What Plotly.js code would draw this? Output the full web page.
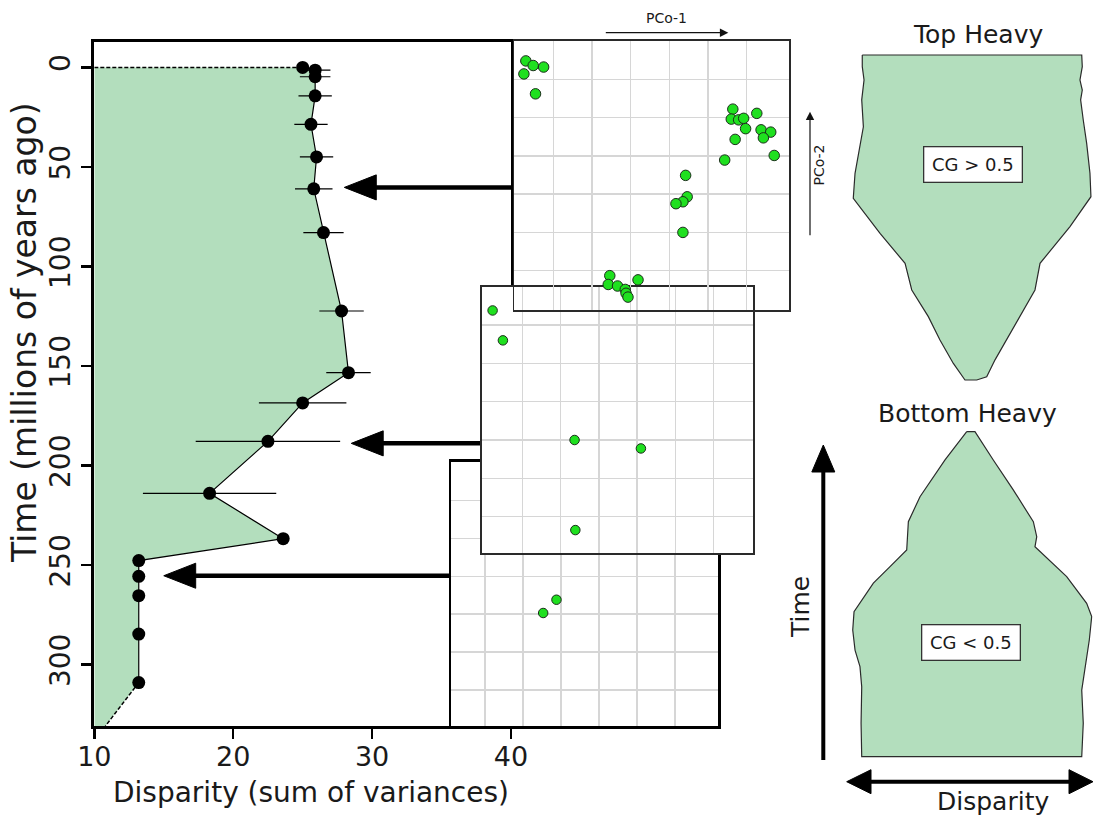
<!DOCTYPE html>
<html>
<head>
<meta charset="utf-8">
<script src="https://cdn.plot.ly/plotly-3.0.1.min.js"></script>
<style>
  html, body { margin: 0; padding: 0; background: #ffffff; }
  #chart { width: 1094px; height: 816px; }
</style>
</head>
<body>
<div id="chart"></div>
<script>
// ---- Disparity through time (main panel) ----
const timeMa       = [0, 1.4, 4.7, 14.3, 28.6, 45, 61, 83, 122.4, 153.4, 168.6, 187.9, 214, 236.8, 247.8, 255.7, 265.4, 284.7, 309.1];
const disparity    = [25.0, 25.9, 25.9, 25.9, 25.6, 26.0, 25.8, 26.5, 27.8, 28.3, 25.0, 22.5, 18.3, 23.6, 13.2, 13.2, 13.2, 13.2, 13.2];
const disparityErr = [0, 1.1, 1.1, 1.2, 1.2, 1.2, 1.35, 1.45, 1.6, 1.6, 3.15, 5.2, 4.8, 0, 0, 0, 0, 0, 0];

// dashed extensions of the curve to the plot edges
const topExtDisparity  = [10, 25.0];
const topExtTime       = [0, 0];
const baseExtDisparity = [13.2, 10.8];
const baseExtTime      = [309.1, 330.9];

const timeTicks      = [0, 50, 100, 150, 200, 250, 300];
const disparityTicks = [10, 20, 30, 40];

// time slices shown as morphospace insets, with pointer arrows
const sliceTimes = [60.3, 188.9, 255.4];
const arrowTips  = [28.0, 28.5, 15.0];
const arrowTails = [40, 38.2, 36.0];

// ---- Morphospace (PCo-1 / PCo-2) occupation for each slice ----
const slice60Pco1  = [0.29, 0.48, 0.75, 0.24, 0.54, 5.64, 5.60, 5.79, 5.92, 6.26, 5.97, 6.37, 6.62, 6.43, 5.70, 6.71, 5.43, 4.42, 4.46, 4.35, 4.17, 4.35, 2.46, 3.19, 2.42, 2.66, 2.86, 2.88, 2.93];
const slice60Pco2  = [6.48, 6.36, 6.32, 6.14, 5.62, 5.22, 4.96, 4.94, 4.98, 5.11, 4.71, 4.68, 4.62, 4.47, 4.43, 4.01, 3.89, 3.49, 2.93, 2.80, 2.75, 2.00, 0.87, 0.76, 0.64, 0.60, 0.51, 0.41, 0.31];
const slice190Pco1 = [0.21, 0.48, 2.36, 4.10, 2.38];
const slice190Pco2 = [6.38, 5.60, 3.00, 2.78, 0.65];
const slice255Pco1 = [2.88, 2.53];
const slice255Pco2 = [3.38, 3.03];
const gridTicks    = [1, 2, 3, 4, 5, 6];

// ---- Schematic disparity profiles (relative width vs relative time) ----
const topHeavyWidth = [-1.00, 1.00, 1.005, 0.984, 1.005, 0.99, 1.014, 1.045, 1.075, 1.084, 0.893, 0.726, 0.62, 0.574, 0.453, 0.346, 0.21, 0.134, 0.043, -0.064, -0.17, -0.292, -0.398, -0.549, -0.61, -0.838, -1.082, -1.066, -1.021, -0.99, -1.005, -0.984, -1.0, -1.00];
const topHeavyTime  = [1, 1, 0.964, 0.923, 0.892, 0.862, 0.8, 0.728, 0.636, 0.564, 0.472, 0.405, 0.359, 0.277, 0.205, 0.144, 0.062, 0.01, 0, 0, 0.051, 0.123, 0.195, 0.277, 0.359, 0.451, 0.559, 0.636, 0.718, 0.779, 0.862, 0.923, 0.964, 1];
const bottomHeavyWidth = [-0.048, 0.027, 0.194, 0.376, 0.559, 0.59, 0.574, 0.863, 1.045, 1.091, 1.069, 1.045, 1.014, 1.0, 1.014, 1.0, -1.005, -1.011, -1.005, -1.021, -1.066, -1.087, -1.075, -0.899, -0.747, -0.595, -0.58, -0.474, -0.246, -0.048];
const bottomHeavyTime  = [1, 1, 0.913, 0.821, 0.723, 0.677, 0.646, 0.554, 0.472, 0.431, 0.359, 0.308, 0.246, 0.205, 0.103, 0, 0, 0.103, 0.215, 0.277, 0.328, 0.39, 0.446, 0.534, 0.585, 0.636, 0.723, 0.8, 0.913, 1];

// ---- styling ----
const W = 1094, H = 816;
const px = v => v / W;          // pixel -> paper x
const py = v => 1 - v / H;      // pixel -> paper y
const GREEN_FILL = 'rgb(179,222,189)';
const DOT_GREEN = '#1fe01f';
const INK = '#1a1a1a';
const FONT = 'DejaVu Sans, Arial, sans-serif';

const traces = [
  // shaded area under the disparity curve
  {
    x: [topExtDisparity[0]].concat(disparity, [baseExtDisparity[1], 10]),
    y: [topExtTime[0]].concat(timeMa, [baseExtTime[1], baseExtTime[1]]),
    xaxis: 'x', yaxis: 'y', type: 'scatter', mode: 'lines',
    fill: 'toself', fillcolor: GREEN_FILL, line: {width: 0}, hoverinfo: 'skip'
  },
  {
    x: topExtDisparity, y: topExtTime, xaxis: 'x', yaxis: 'y', type: 'scatter', mode: 'lines',
    line: {color: '#000', width: 1.5, dash: '4px,2px'}
  },
  {
    x: baseExtDisparity, y: baseExtTime, xaxis: 'x', yaxis: 'y', type: 'scatter', mode: 'lines',
    line: {color: '#000', width: 1.5, dash: '4px,2px'}
  },
  {
    x: disparity, y: timeMa, xaxis: 'x', yaxis: 'y', type: 'scatter', mode: 'lines+markers',
    line: {color: '#000', width: 1.2},
    marker: {color: '#000', size: 13},
    error_x: {type: 'data', array: disparityErr, visible: true, color: '#000', thickness: 1.2, width: 0}
  },
  // morphospace insets (back to front)
  {
    x: slice255Pco1, y: slice255Pco2, xaxis: 'x2', yaxis: 'y2', type: 'scatter', mode: 'markers',
    marker: {color: DOT_GREEN, size: 9.5, line: {color: '#1b2e1b', width: 1}}
  },
  {
    x: slice190Pco1, y: slice190Pco2, xaxis: 'x3', yaxis: 'y3', type: 'scatter', mode: 'markers',
    marker: {color: DOT_GREEN, size: 9.5, line: {color: '#1b2e1b', width: 1}}
  },
  {
    x: slice60Pco1, y: slice60Pco2, xaxis: 'x4', yaxis: 'y4', type: 'scatter', mode: 'markers',
    marker: {color: DOT_GREEN, size: 10.5, line: {color: '#1b2e1b', width: 1}}
  },
  // schematic profiles
  {
    x: topHeavyWidth, y: topHeavyTime, xaxis: 'x5', yaxis: 'y5', type: 'scatter', mode: 'lines',
    fill: 'toself', fillcolor: GREEN_FILL, line: {color: '#2b2b2b', width: 1.2}
  },
  {
    x: bottomHeavyWidth, y: bottomHeavyTime, xaxis: 'x6', yaxis: 'y6', type: 'scatter', mode: 'lines',
    fill: 'toself', fillcolor: GREEN_FILL, line: {color: '#2b2b2b', width: 1.2}
  }
];

function insetAxis(domain, range, anchor, color, width) {
  return {
    domain: domain, range: range, anchor: anchor,
    tickvals: gridTicks, showticklabels: false, ticks: '',
    showgrid: true, gridcolor: '#d6d6d6', gridwidth: 1.3,
    zeroline: false, showline: true, mirror: true,
    linecolor: color, linewidth: width, fixedrange: true
  };
}

function hiddenAxis(domain, range, anchor) {
  return {domain: domain, range: range, anchor: anchor, visible: false, fixedrange: true};
}

// pointer arrows from each inset to its time slice
const HEAD_LEN = 2.3;   // disparity units
const HEAD_HALF = 6.3;  // Ma
const shapes = [];
sliceTimes.forEach((t, i) => {
  const tip = arrowTips[i];
  shapes.push({
    type: 'line', xref: 'x', yref: 'y', layer: 'below',
    x0: arrowTails[i], x1: tip + HEAD_LEN * 0.8, y0: t, y1: t,
    line: {color: '#000', width: 4.5}
  });
  shapes.push({
    type: 'path', xref: 'x', yref: 'y', layer: 'below',
    path: `M${tip},${t} L${tip + HEAD_LEN},${t - HEAD_HALF} L${tip + HEAD_LEN},${t + HEAD_HALF} Z`,
    fillcolor: '#000', line: {color: '#000', width: 1}
  });
});

// Time (vertical) and Disparity (double-headed) key arrows
const tx = 823.3;
shapes.push({type: 'line', xref: 'paper', yref: 'paper', x0: px(tx), x1: px(tx), y0: py(760), y1: py(468),
  line: {color: '#000', width: 4}});
shapes.push({type: 'path', xref: 'paper', yref: 'paper',
  path: `M${px(tx)},${py(445)} L${px(tx - 11.5)},${py(472)} L${px(tx + 11.5)},${py(472)} Z`,
  fillcolor: '#000', line: {color: '#000', width: 1}});
const dy = 781.7;
shapes.push({type: 'line', xref: 'paper', yref: 'paper', x0: px(868), x1: px(1072), y0: py(dy), y1: py(dy),
  line: {color: '#000', width: 4}});
shapes.push({type: 'path', xref: 'paper', yref: 'paper',
  path: `M${px(846.7)},${py(dy)} L${px(871)},${py(dy - 12)} L${px(871)},${py(dy + 12)} Z`,
  fillcolor: '#000', line: {color: '#000', width: 1}});
shapes.push({type: 'path', xref: 'paper', yref: 'paper',
  path: `M${px(1093)},${py(dy)} L${px(1069)},${py(dy - 12)} L${px(1069)},${py(dy + 12)} Z`,
  fillcolor: '#000', line: {color: '#000', width: 1}});

function label(text, x, y, size, extra) {
  return Object.assign({
    xref: 'paper', yref: 'paper', x: px(x), y: py(y), text: text, showarrow: false,
    xanchor: 'center', yanchor: 'middle', font: {family: FONT, size: size, color: INK}
  }, extra || {});
}

const annotations = [
  label('Disparity (sum of variances)', 311, 792, 28),
  label('Time (millions of years ago)', 24, 333, 33, {textangle: -90}),
  label('Top Heavy', 978, 35, 25),
  label('Bottom Heavy', 967, 413, 25),
  label('Time', 800, 607, 25, {textangle: -90}),
  label('Disparity', 993, 801, 25),
  label('PCo-1', 666, 18, 14),
  label('PCo-2', 818.5, 165, 14, {textangle: -90}),
  label('CG &gt; 0.5', 972.5, 165, 18, {bgcolor: '#ffffff', bordercolor: '#333', borderwidth: 1.3, borderpad: 2, width: 93, height: 30}),
  label('CG &lt; 0.5', 971.3, 642, 18, {bgcolor: '#ffffff', bordercolor: '#333', borderwidth: 1.3, borderpad: 2, width: 93, height: 30}),
  {xref: 'paper', yref: 'paper', x: px(728.3), y: py(32.7), ax: -124, ay: 0, text: '', showarrow: true,
   arrowhead: 2, arrowsize: 1.4, arrowwidth: 1.2, arrowcolor: '#111'},
  {xref: 'paper', yref: 'paper', x: px(810), y: py(111.7), ax: 0, ay: 125, text: '', showarrow: true,
   arrowhead: 2, arrowsize: 1.4, arrowwidth: 1.2, arrowcolor: '#111'}
];

const layout = {
  width: W, height: H,
  margin: {l: 0, r: 0, t: 0, b: 0, pad: 0},
  paper_bgcolor: '#ffffff', plot_bgcolor: '#ffffff',
  showlegend: false,
  font: {family: FONT, color: INK},
  xaxis: {
    domain: [94.3 / W, 511 / W], range: [10, 40], anchor: 'y',
    tickvals: disparityTicks, ticks: 'outside', ticklen: 10, tickwidth: 2.5, tickcolor: '#000',
    ticklabelstandoff: -5,
    showline: true, linewidth: 3, linecolor: '#000', mirror: true,
    showgrid: false, zeroline: false, tickfont: {family: FONT, size: 27, color: INK}, fixedrange: true
  },
  yaxis: {
    domain: [1 - 726 / H, 1 - 41.7 / H], range: [330.9, -12.9], anchor: 'x',
    tickvals: timeTicks, ticks: 'outside', ticklen: 10, tickwidth: 2.5, tickcolor: '#000', tickangle: -90,
    showline: true, linewidth: 3, linecolor: '#000', mirror: true,
    showgrid: false, zeroline: false, tickfont: {family: FONT, size: 28, color: INK}, fixedrange: true
  },
  xaxis2: insetAxis([451 / W, 718 / W], [0.105, 7.13], 'y2', '#000', 2.5),
  yaxis2: insetAxis([1 - 726 / H, 1 - 461.7 / H], [0.05, 7.02], 'x2', '#000', 2.5),
  xaxis3: insetAxis([481.7 / W, 753 / W], [-0.076, 7.04], 'y3', '#2a2a2a', 1.5),
  yaxis3: insetAxis([1 - 553 / H, 1 - 286.7 / H], [0.052, 7.0], 'x3', '#2a2a2a', 1.5),
  xaxis4: insetAxis([514 / W, 789.3 / W], [-0.016, 7.10], 'y4', '#2a2a2a', 1.5),
  yaxis4: insetAxis([1 - 310 / H, 1 - 40.7 / H], [-0.027, 7.008], 'x4', '#2a2a2a', 1.5),
  xaxis5: hiddenAxis([851.3 / W, 1092.7 / W], [-1.1, 1.1], 'y5'),
  yaxis5: hiddenAxis([1 - 386.5 / H, 1 - 48.5 / H], [-0.02, 1.02], 'x5'),
  xaxis6: hiddenAxis([851.3 / W, 1092.7 / W], [-1.1, 1.1], 'y6'),
  yaxis6: hiddenAxis([1 - 763.2 / H, 1 - 425.2 / H], [-0.02, 1.02], 'x6'),
  shapes: shapes,
  annotations: annotations
};

Plotly.newPlot('chart', traces, layout, {displayModeBar: false, staticPlot: true});
</script>
</body>
</html>
